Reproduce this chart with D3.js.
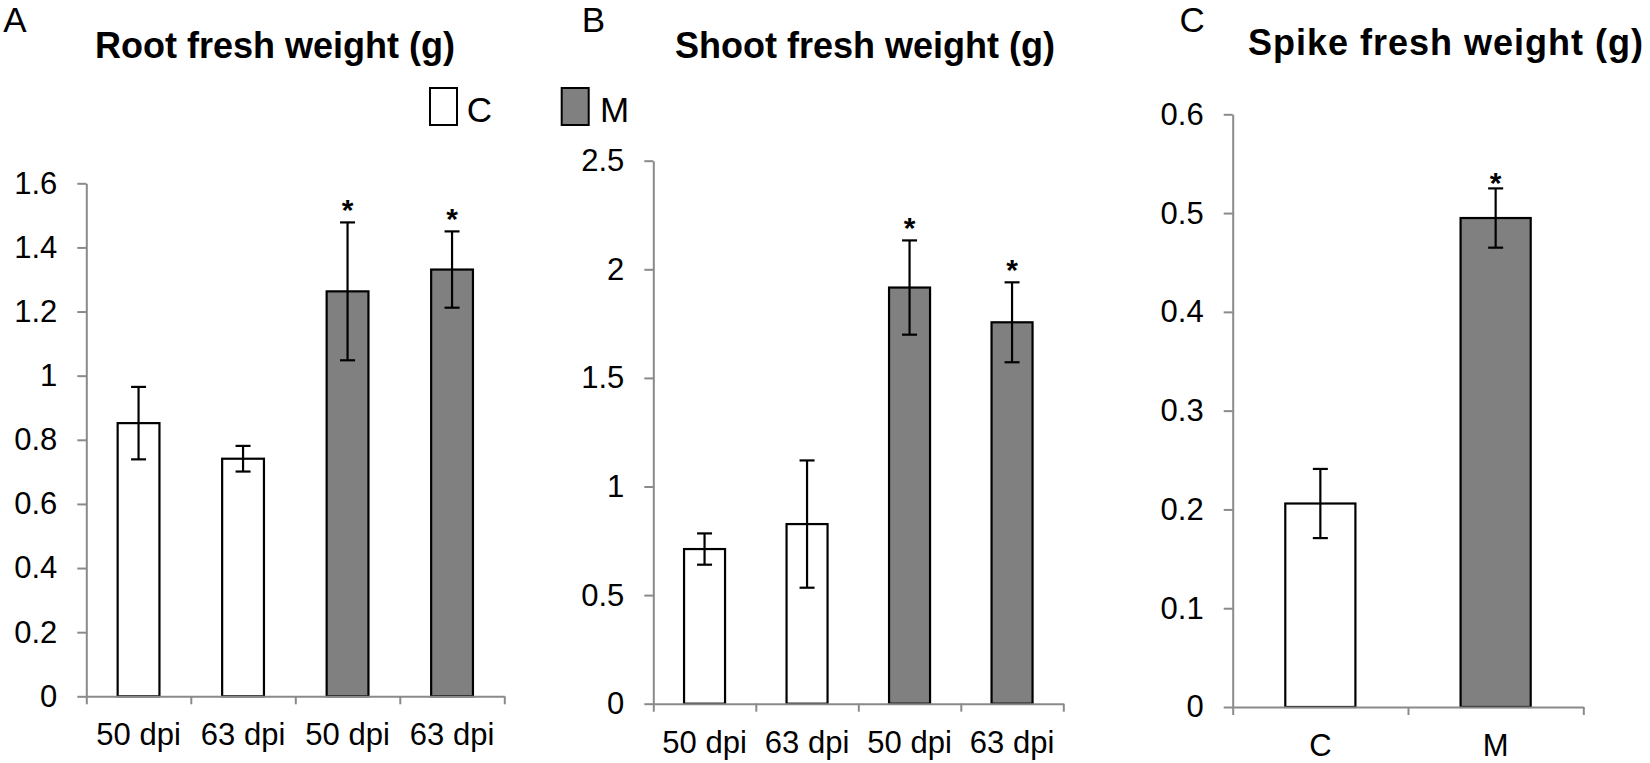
<!DOCTYPE html>
<html>
<head>
<meta charset="utf-8">
<script src="https://cdn.jsdelivr.net/npm/d3@7"></script>
<style>
  html, body { margin: 0; padding: 0; background: #fff; }
  svg { display: block; font-family: "Liberation Sans", Arial, sans-serif; }
</style>
</head>
<body>
<svg id="chart" width="1650" height="763"></svg>
<script>
// ---------- DATA ----------
const rootCategories  = ["50 dpi", "63 dpi", "50 dpi", "63 dpi"];
const rootGroups      = ["C", "C", "M", "M"];
const rootMeans       = [0.852, 0.741, 1.263, 1.331];
const rootErrors      = [0.113, 0.040, 0.215, 0.119];
const rootSignificant = [false, false, true, true];
const rootTicks       = [0, 0.2, 0.4, 0.6, 0.8, 1, 1.2, 1.4, 1.6];

const shootCategories  = ["50 dpi", "63 dpi", "50 dpi", "63 dpi"];
const shootGroups      = ["C", "C", "M", "M"];
const shootMeans       = [0.712, 0.827, 1.916, 1.756];
const shootErrors      = [0.072, 0.293, 0.217, 0.184];
const shootSignificant = [false, false, true, true];
const shootTicks       = [0, 0.5, 1, 1.5, 2, 2.5];

const spikeCategories  = ["C", "M"];
const spikeGroups      = ["C", "M"];
const spikeMeans       = [0.206, 0.495];
const spikeErrors      = [0.035, 0.030];
const spikeSignificant = [false, true];
const spikeTicks       = [0, 0.1, 0.2, 0.3, 0.4, 0.5, 0.6];

const legendLabels = ["C", "M"];

// ---------- STYLE ----------
const fillFor = { C: "#ffffff", M: "#808080" };
const axisColor = "#8a8a8a";
const labelSize = 31;

const svg = d3.select("#chart");

function drawPanel(cfg) {
  const { categories, groups, means, errors, sig, ticks, x0, x1, yTop, yBottom } = cfg;
  const n = categories.length;
  const y = d3.scaleLinear().domain([0, ticks[ticks.length - 1]]).range([yBottom, yTop]);
  const x = d3.scaleBand().domain(d3.range(n)).range([x0, x1]).paddingInner(0.6).paddingOuter(0.3);
  const xb = d3.scaleLinear().domain([0, n]).range([x0, x1]);
  const g = svg.append("g");

  // bars
  g.selectAll("rect.bar").data(means).join("rect")
    .attr("class", "bar")
    .attr("x", (d, i) => x(i))
    .attr("width", x.bandwidth())
    .attr("y", d => y(d))
    .attr("height", d => y(0) - y(d))
    .attr("fill", (d, i) => fillFor[groups[i]])
    .attr("stroke", "#000")
    .attr("stroke-width", 2.2);

  // y axis
  const ya = g.append("g").attr("transform", `translate(${x0},0)`)
    .call(d3.axisLeft(y).tickValues(ticks).tickFormat(d => String(d)).tickSize(9).tickPadding(20).tickSizeOuter(0));
  ya.select(".domain").attr("stroke", axisColor).attr("stroke-width", 2);
  ya.selectAll(".tick line").attr("stroke", axisColor).attr("stroke-width", 2);
  ya.selectAll(".tick text").attr("font-size", labelSize).attr("fill", "#000")
    .attr("font-family", "'Liberation Sans', Arial, sans-serif");

  // x axis (boundary ticks, Excel style)
  const xa = g.append("g").attr("transform", `translate(0,${yBottom})`)
    .call(d3.axisBottom(xb).tickValues(d3.range(n + 1)).tickFormat("").tickSize(8).tickSizeOuter(0));
  xa.select(".domain").attr("stroke", axisColor).attr("stroke-width", 2);
  xa.selectAll(".tick line").attr("stroke", axisColor).attr("stroke-width", 2);

  // category labels
  g.selectAll("text.cat").data(categories).join("text")
    .attr("class", "cat")
    .attr("x", (d, i) => x(i) + x.bandwidth() / 2)
    .attr("y", yBottom + 49)
    .attr("text-anchor", "middle")
    .attr("font-size", labelSize)
    .text(d => d);

  // error bars
  const cap = 7.5;
  means.forEach((m, i) => {
    const cx = x(i) + x.bandwidth() / 2;
    const top = y(m + errors[i]), bot = y(m - errors[i]);
    g.append("line").attr("x1", cx).attr("x2", cx).attr("y1", top).attr("y2", bot)
      .attr("stroke", "#000").attr("stroke-width", 2.2);
    g.append("line").attr("x1", cx - cap).attr("x2", cx + cap).attr("y1", top).attr("y2", top)
      .attr("stroke", "#000").attr("stroke-width", 2.2);
    g.append("line").attr("x1", cx - cap).attr("x2", cx + cap).attr("y1", bot).attr("y2", bot)
      .attr("stroke", "#000").attr("stroke-width", 2.2);
    if (sig[i]) {
      g.append("text").attr("x", cx).attr("y", top - cfg.starGap)
        .attr("text-anchor", "middle").attr("font-size", 30).attr("font-weight", "bold")
        .text("*");
    }
  });

  // title and panel letter
  svg.append("text").attr("x", cfg.titleX).attr("y", cfg.titleY)
    .attr("font-size", 36).attr("font-weight", "bold")
    .attr("letter-spacing", cfg.titleSpacing || 0)
    .text(cfg.title);
  svg.append("text").attr("x", cfg.letterX).attr("y", cfg.letterY)
    .attr("font-size", 35).text(cfg.letter);
}

drawPanel({
  categories: rootCategories, groups: rootGroups, means: rootMeans, errors: rootErrors,
  sig: rootSignificant, ticks: rootTicks,
  x0: 86.3, x1: 504.3, yTop: 183.3, yBottom: 696.3, starGap: 2,
  title: "Root fresh weight (g)", titleX: 95, titleY: 58.3,
  letter: "A", letterX: 3.3, letterY: 32.3
});
drawPanel({
  categories: shootCategories, groups: shootGroups, means: shootMeans, errors: shootErrors,
  sig: shootSignificant, ticks: shootTicks,
  x0: 653.3, x1: 1063.3, yTop: 160.7, yBottom: 703.7, starGap: 2,
  title: "Shoot fresh weight (g)", titleX: 675, titleY: 58.3,
  letter: "B", letterX: 581.7, letterY: 32.3
});
drawPanel({
  categories: spikeCategories, groups: spikeGroups, means: spikeMeans, errors: spikeErrors,
  sig: spikeSignificant, ticks: spikeTicks,
  x0: 1232.7, x1: 1583.3, yTop: 114.3, yBottom: 707, starGap: -5,
  title: "Spike fresh weight (g)", titleX: 1248, titleY: 55, titleSpacing: 1,
  letter: "C", letterX: 1179.5, letterY: 31.7
});

// legend
const legend = svg.append("g");
const legendPos = [{ bx: 430, tx: 466.7 }, { bx: 561.7, tx: 600 }];
legendLabels.forEach((lab, i) => {
  legend.append("rect").attr("x", legendPos[i].bx).attr("y", 88).attr("width", 27).attr("height", 37)
    .attr("fill", fillFor[lab]).attr("stroke", "#000").attr("stroke-width", 2);
  legend.append("text").attr("x", legendPos[i].tx).attr("y", 121.7)
    .attr("font-size", 35).text(lab);
});
</script>
</body>
</html>
